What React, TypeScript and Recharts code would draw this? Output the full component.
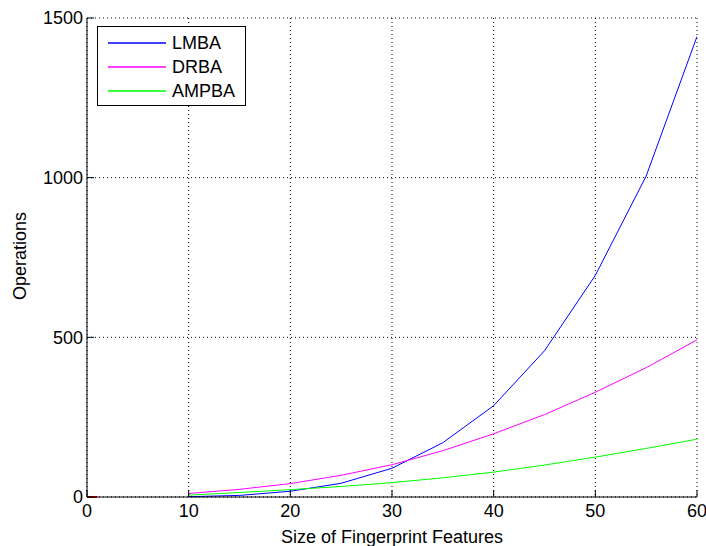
import React from "react";
import { LineChart, Line, XAxis, YAxis, CartesianGrid, Legend } from "recharts";

// data -----------------------------------------------------------------------
const sizes = [10, 15, 20, 25, 30, 35, 40, 45, 50, 55, 60];
const lmba = [1, 5, 18, 43, 90, 170, 286, 458, 694, 1005, 1442];
const drba = [11, 24, 42, 68, 101, 145, 198, 258, 328, 405, 492];
const ampba = [6, 14, 23, 33, 45, 60, 78, 100, 125, 152, 181];
// tiny red stub at the origin
const stubX = [0, 1];
const stubY = [0, 0];

const xTicks = [0, 10, 20, 30, 40, 50, 60];
const yTicks = [0, 500, 1000, 1500];

const seriesInfo = [
  { key: "lmba", name: "LMBA", color: "#0000ff" },
  { key: "drba", name: "DRBA", color: "#ff00ff" },
  { key: "ampba", name: "AMPBA", color: "#00ff00" },
];

const rows = sizes.map((s, i) => ({ size: s, lmba: lmba[i], drba: drba[i], ampba: ampba[i] }));
const stub = stubX.map((x, i) => ({ size: x, v: stubY[i] }));

const FONT = "'Liberation Sans', Arial, sans-serif";
const tickStyle = { fill: "#000", fontSize: 18, fontFamily: FONT };

// matlab-ish legend box
const LegendBox = () => (
  <div
    style={{
      boxSizing: "border-box",
      border: "1px solid #000",
      background: "#fff",
      padding: "4px 0",
      width: 149,
      height: 80,
      fontFamily: FONT,
      fontSize: 18,
      lineHeight: "24px",
      color: "#000",
    }}
  >
    {seriesInfo.map((s) => (
      <div key={s.key} style={{ height: 24, display: "flex", alignItems: "center" }}>
        <svg width={74} height={24} style={{ display: "block" }}>
          <line x1={10} x2={68} y1={12} y2={12} stroke={s.color} strokeWidth={1.3} />
        </svg>
        <span>{s.name}</span>
      </div>
    ))}
  </div>
);

export default function App() {
  return (
    <div style={{ position: "absolute", left: 0, top: 0, width: 706, height: 546, background: "#fff" }}>
      <LineChart width={706} height={546} margin={{ top: 18, right: 9, left: 27, bottom: 19 }}>
        <CartesianGrid stroke="#000" strokeDasharray="1 3" />
        <XAxis
          dataKey="size"
          type="number"
          domain={[0, 60]}
          ticks={xTicks}
          allowDataOverflow
          height={30}
          tickSize={-7}
          tickMargin={14}
          tick={tickStyle}
          stroke="#000"
          label={{ value: "Size of Fingerprint Features", position: "bottom", offset: 3, style: tickStyle }}
        />
        <XAxis
          xAxisId="top"
          orientation="top"
          dataKey="size"
          type="number"
          domain={[0, 60]}
          ticks={xTicks}
          height={0}
          tickSize={-7}
          tick={false}
          stroke="#000"
        />
        <YAxis
          type="number"
          domain={[0, 1500]}
          ticks={yTicks}
          width={60}
          tickSize={-7}
          tickMargin={11}
          tick={tickStyle}
          stroke="#000"
          label={{
            content: () => (
              <text x={26} y={256} transform="rotate(-90 26 256)" textAnchor="middle" style={tickStyle}>
                Operations
              </text>
            ),
          }}
        />
        <YAxis
          yAxisId="right"
          orientation="right"
          type="number"
          domain={[0, 1500]}
          ticks={yTicks}
          width={0}
          tickSize={-7}
          tick={false}
          stroke="#000"
        />
        <Legend
          layout="vertical"
          align="center"
          verticalAlign="middle"
          wrapperStyle={{ left: 97, top: 26, width: 149, height: 80 }}
          content={() => <LegendBox />}
        />
        <Line data={stub} dataKey="v" stroke="#ff0000" strokeWidth={2} dot={false} isAnimationActive={false} legendType="none" />
        {seriesInfo.map((s) => (
          <Line
            key={s.key}
            data={rows}
            dataKey={s.key}
            name={s.name}
            stroke={s.color}
            strokeWidth={1}
            dot={false}
            type="linear"
            isAnimationActive={false}
          />
        ))}
      </LineChart>
    </div>
  );
}
